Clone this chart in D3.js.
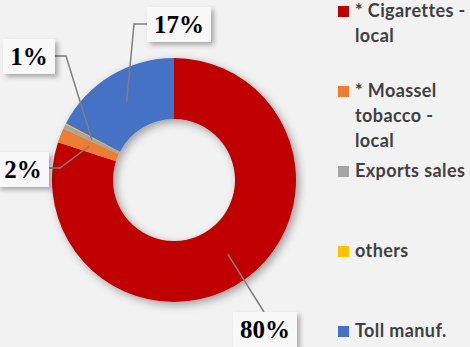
<!DOCTYPE html>
<html>
<head>
<meta charset="utf-8">
<script src="https://cdn.jsdelivr.net/npm/d3@7"></script>
<style>
  html, body { margin: 0; padding: 0; background: #f2f2f2; }
  svg { display: block; }
</style>
</head>
<body>
<svg id="chart" width="470" height="347"></svg>
<script>
// ---- data ----
const categories = ["* Cigarettes - local", "* Moassel tobacco - local", "Exports sales", "others", "Toll manuf."];
const legendLines = [["* Cigarettes -", "local"], ["* Moassel", "tobacco -", "local"], ["Exports sales"], ["others"], ["Toll manuf."]];
const values = [80.0, 1.95, 0.6, 0.15, 17.3];
const colors = ["#C00000", "#ED7D31", "#A5A5A5", "#FFC000", "#4472C4"];

// ---- layout (label boxes: x, y, w, h, elbow end) ----
const labelLayout = [
  { box: [233, 312, 64, 35], path: "straight", end: [264, 312] },
  { box: [-3, 152, 52, 35], path: "elbow", elbow: [60, 168], end: [49, 168] },
  { box: [3, 39, 52, 35], path: "elbow", elbow: [66, 56], end: [55, 56] },
  null,
  { box: [147, 7, 64, 35], path: "elbow", elbow: [134, 24], end: [147, 24] }
];

const svg = d3.select("#chart");
const defs = svg.append("defs");
const sh = defs.append("filter").attr("id", "shadow")
  .attr("x", "-30%").attr("y", "-30%").attr("width", "160%").attr("height", "160%");
sh.append("feDropShadow").attr("dx", 3).attr("dy", 3).attr("stdDeviation", 4)
  .attr("flood-color", "#000").attr("flood-opacity", 0.35);
const sh2 = defs.append("filter").attr("id", "boxshadow")
  .attr("x", "-30%").attr("y", "-30%").attr("width", "160%").attr("height", "160%");
sh2.append("feDropShadow").attr("dx", 3).attr("dy", 3).attr("stdDeviation", 2.5)
  .attr("flood-color", "#000").attr("flood-opacity", 0.3);

svg.append("rect").attr("width", 470).attr("height", 347).attr("fill", "#f2f2f2");

const cx = 174, cy = 180, R = 122, r = 61;
const pie = d3.pie().sort(null).value(d => d)(values);
const arc = d3.arc().innerRadius(r).outerRadius(R);

const g = svg.append("g").attr("transform", `translate(${cx},${cy})`);
g.append("g").attr("filter", "url(#shadow)")
  .selectAll("path").data(pie).join("path")
  .attr("d", arc)
  .attr("fill", (d, i) => colors[i]);

// leader lines + labels
const lg = svg.append("g");
pie.forEach((d, i) => {
  const L = labelLayout[i];
  if (!L) return;
  const c = arc.centroid(d);
  const sx = cx + c[0], sy = cy + c[1];
  let pts = [[sx, sy]];
  if (L.path === "elbow") pts.push(L.elbow);
  pts.push(L.end);
  lg.append("path")
    .attr("d", d3.line()(pts))
    .attr("fill", "none").attr("stroke", "#7f7f7f").attr("stroke-width", 1.5);
});
pie.forEach((d, i) => {
  const L = labelLayout[i];
  if (!L) return;
  const [bx, by, bw, bh] = L.box;
  lg.append("rect").attr("x", bx).attr("y", by).attr("width", bw).attr("height", bh)
    .attr("fill", "#f8f8f8").attr("filter", "url(#boxshadow)");
  lg.append("text")
    .attr("x", bx + bw / 2).attr("y", by + bh / 2 + 8.5)
    .attr("text-anchor", "middle")
    .attr("font-family", "'Liberation Serif', 'Times New Roman', serif")
    .attr("font-weight", "bold").attr("font-size", 25).attr("fill", "#000")
    .text(Math.round(values[i]) + "%");
});

// legend
const leg = svg.append("g");
categories.forEach((cat, i) => {
  const base = 17 + i * 80;
  leg.append("rect").attr("x", 338).attr("y", base - 11).attr("width", 11).attr("height", 11)
    .attr("fill", colors[i]);
  const t = leg.append("text")
    .attr("font-family", "Lato, 'Open Sans', sans-serif")
    .attr("font-weight", "bold").attr("font-size", 18).attr("letter-spacing", 0.4)
    .attr("fill", "#404040");
  legendLines[i].forEach((ln, j) => {
    t.append("tspan").attr("x", 355).attr("y", base + j * 25).text(ln);
  });
});
</script>
</body>
</html>
